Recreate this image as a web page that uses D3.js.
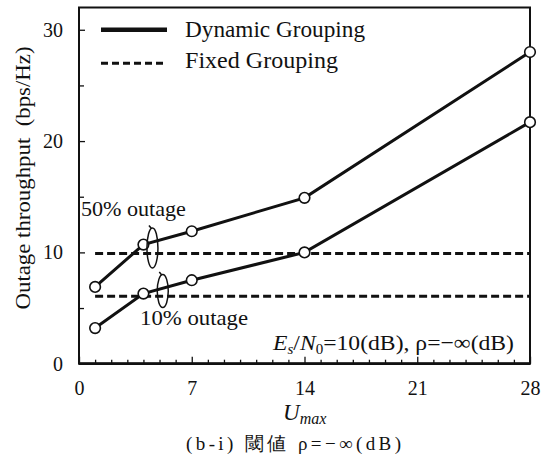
<!DOCTYPE html>
<html>
<head>
<meta charset="utf-8">
<script src="https://cdn.jsdelivr.net/npm/d3@7"></script>
<style>
  html, body { margin: 0; padding: 0; background: #fff; }
  svg { display: block; }
  text { font-family: "Liberation Serif", "Times New Roman", serif; fill: #111; }
</style>
</head>
<body>
<svg id="chart" width="552" height="464"></svg>
<script>
// ---- data ----
const uMax = [1, 4, 7, 14, 28];
const dynamic50 = [6.9, 10.7, 11.9, 14.9, 28.0];
const dynamic10 = [3.2, 6.3, 7.5, 10.0, 21.7];
const fixedU = [1, 28];
const fixed50 = [9.9, 9.9];
const fixed10 = [6.05, 6.05];
const xTicks = [0, 7, 14, 21, 28];
const yTicks = [0, 10, 20, 30];
const legendLabels = ["Dynamic Grouping", "Fixed Grouping"];
// annotation anchors (data coordinates)
const ellipseCx = [4.56, 5.2];
const ellipseCy = [10.4, 6.53];
const ellipseRy = [1.8, 1.48];
const outageLabels = ["50% outage", "10% outage"];
const outageLabelX = [0.12, 3.79];
const outageLabelY = [13.3, 3.47];

// ---- layout ----
const W = 552, H = 464;
const margin = {left: 79, top: 7.5, right: 22, bottom: 100.3};
const svg = d3.select("#chart");
const x = d3.scaleLinear().domain([0, 28]).range([margin.left, W - margin.right]);
const y = d3.scaleLinear().domain([0, 32]).range([H - margin.bottom, margin.top]);

// axes
const xAxis = d3.axisBottom(x)
  .tickValues(d3.range(0, 29))
  .tickSizeInner(-4).tickSizeOuter(0).tickPadding(17)
  .tickFormat(d => xTicks.includes(d) ? d : "");
const gx = svg.append("g").attr("transform", `translate(0,${y(0)})`).call(xAxis);
gx.select(".domain").remove();
gx.selectAll(".tick line").attr("stroke", "#111").attr("stroke-width", 1.3)
  .attr("y2", d => d % 7 === 0 ? -7 : -4);
gx.selectAll(".tick text").attr("font-size", 20).attr("font-family", "Liberation Serif").attr("fill", "#111");

const yAxis = d3.axisLeft(y)
  .tickValues(d3.range(0, 31, 5))
  .tickSizeInner(-5).tickSizeOuter(0).tickPadding(16)
  .tickFormat(d => yTicks.includes(d) ? d : "");
const gy = svg.append("g").attr("transform", `translate(${x(0)},0)`).call(yAxis);
gy.select(".domain").remove();
gy.selectAll(".tick line").attr("stroke", "#111").attr("stroke-width", 1.3)
  .attr("x2", d => d % 10 === 0 ? 6 : 5);
gy.selectAll(".tick text").attr("font-size", 20).attr("font-family", "Liberation Serif").attr("fill", "#111");

// frame
svg.append("rect")
  .attr("x", x(0)).attr("y", y(32))
  .attr("width", x(28) - x(0)).attr("height", y(0) - y(32))
  .attr("fill", "none").attr("stroke", "#111").attr("stroke-width", 2);
svg.append("line").attr("x1", x(0)).attr("x2", x(28)).attr("y1", y(0)).attr("y2", y(0))
  .attr("stroke", "#111").attr("stroke-width", 2.8);

// fixed grouping (dashed)
const line = d3.line().x(d => x(d[0])).y(d => y(d[1]));
[fixed50, fixed10].forEach(vals => {
  svg.append("path")
    .attr("d", line(fixedU.map((u, i) => [u, vals[i]])))
    .attr("fill", "none").attr("stroke", "#111").attr("stroke-width", 3)
    .attr("stroke-dasharray", "8,4");
});

// dynamic grouping (solid)
[dynamic50, dynamic10].forEach(vals => {
  const pts = uMax.map((u, i) => [u, vals[i]]);
  svg.append("path")
    .attr("d", line(pts))
    .attr("fill", "none").attr("stroke", "#111").attr("stroke-width", 3);
  svg.selectAll(null).data(pts).enter().append("circle")
    .attr("cx", d => x(d[0])).attr("cy", d => y(d[1])).attr("r", 5.3)
    .attr("fill", "#fff").attr("stroke", "#111").attr("stroke-width", 1.6);
});

// annotation ellipses and labels
ellipseCx.forEach((cx, i) => {
  const px = x(cx), py = y(ellipseCy[i]);
  const ry = y(0) - y(ellipseRy[i]);
  svg.append("ellipse")
    .attr("cx", px).attr("cy", py).attr("rx", 5.5).attr("ry", ry)
    .attr("fill", "none").attr("stroke", "#111").attr("stroke-width", 1.5);
  svg.append("line")
    .attr("x1", px - 1).attr("y1", py - ry + 0.5)
    .attr("x2", px - 3.5).attr("y2", py - ry - 2.5)
    .attr("stroke", "#111").attr("stroke-width", 1.5);
  svg.append("text")
    .attr("x", x(outageLabelX[i])).attr("y", y(outageLabelY[i]))
    .attr("font-size", 21).attr("textLength", i === 0 ? 105 : 108)
    .attr("lengthAdjust", "spacingAndGlyphs")
    .text(outageLabels[i]);
});

// condition label
const cond = svg.append("text")
  .attr("x", 514).attr("y", 350).attr("text-anchor", "end")
  .attr("font-size", 22).attr("textLength", 241).attr("lengthAdjust", "spacingAndGlyphs");
cond.append("tspan").attr("font-style", "italic").text("E");
cond.append("tspan").attr("font-style", "italic").attr("font-size", 14).attr("dy", 4).text("s");
cond.append("tspan").attr("dy", -4).text("/");
cond.append("tspan").attr("font-style", "italic").text("N");
cond.append("tspan").attr("font-size", 14).attr("dy", 4).text("0");
cond.append("tspan").attr("dy", -4).text("=10(dB), ρ=−∞(dB)");

// legend
svg.append("line").attr("x1", 101).attr("x2", 167).attr("y1", 29.7).attr("y2", 29.7)
  .attr("stroke", "#111").attr("stroke-width", 4.5);
svg.append("line").attr("x1", 101).attr("x2", 167).attr("y1", 63.3).attr("y2", 63.3)
  .attr("stroke", "#111").attr("stroke-width", 3).attr("stroke-dasharray", "7,4");
svg.append("text").attr("x", 185).attr("y", 36.5).attr("font-size", 23)
  .attr("textLength", 180).attr("lengthAdjust", "spacingAndGlyphs").text(legendLabels[0]);
svg.append("text").attr("x", 185).attr("y", 67.5).attr("font-size", 23)
  .attr("textLength", 153).attr("lengthAdjust", "spacingAndGlyphs").text(legendLabels[1]);

// y axis title
svg.append("text")
  .attr("transform", `translate(30,178) rotate(-90)`)
  .attr("text-anchor", "middle").attr("font-size", 22)
  .attr("textLength", 263).attr("lengthAdjust", "spacingAndGlyphs")
  .attr("style", "white-space: pre")
  .text("Outage throughput  (bps/Hz)");

// x axis title
const xt = svg.append("text").attr("x", 283).attr("y", 420).attr("font-size", 23).attr("font-style", "italic");
xt.append("tspan").text("U");
xt.append("tspan").attr("font-size", 16).attr("dy", 4).text("max");

// caption
svg.append("text")
  .attr("x", 186).attr("y", 450).attr("font-size", 19)
  .attr("font-family", "'Liberation Serif', 'Noto Sans CJK JP', serif")
  .attr("textLength", 215).attr("lengthAdjust", "spacing")
  .text("(b-i) 閾値 ρ=−∞(dB)");
</script>
</body>
</html>
